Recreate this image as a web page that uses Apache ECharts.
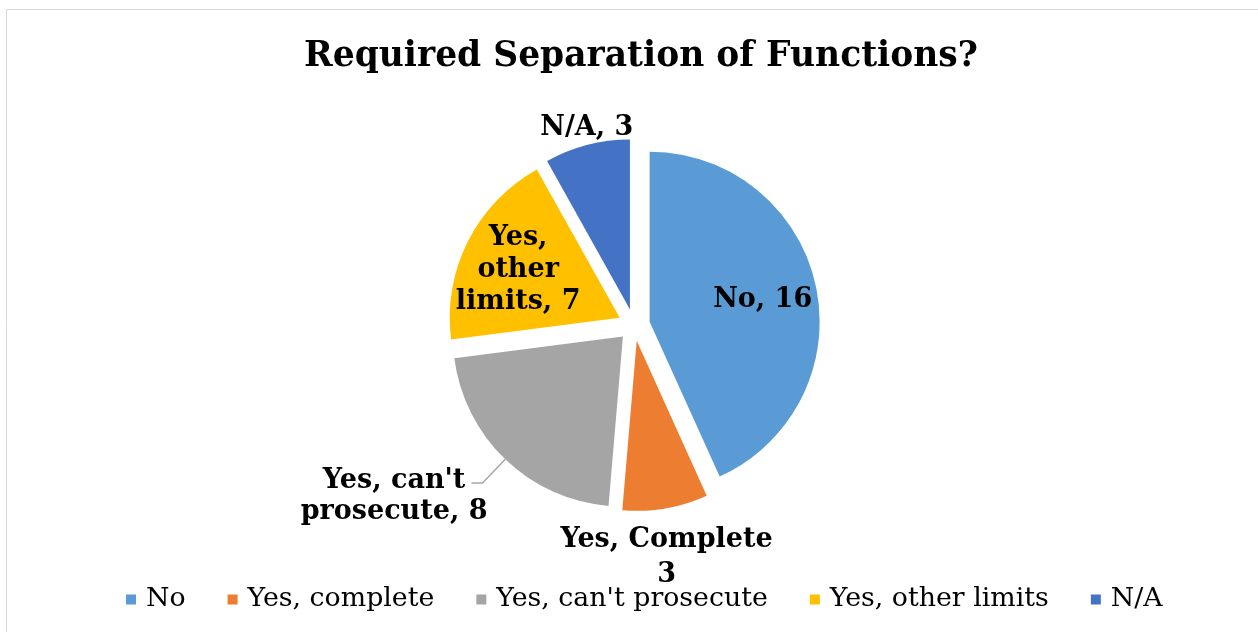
<!DOCTYPE html>
<html><head><meta charset="utf-8">
<script src="https://cdn.jsdelivr.net/npm/echarts@6/dist/echarts.min.js"></script>
<style>html,body{margin:0;padding:0;background:#fff}#c{width:1258px;height:632px}</style>
</head><body><div id="c"></div>
<script>
const categories = ["No", "Yes, complete", "Yes, can't prosecute", "Yes, other limits", "N/A"];
const labelNames = ["No", "Yes, Complete", "Yes, can't\nprosecute", "Yes,\nother\nlimits", "N/A"];
const values = [16, 3, 8, 7, 3];
const colors = ["#5B9BD5", "#ED7D31", "#A5A5A5", "#FFC000", "#4472C4"];
const FONT = "DejaVu Serif";

const labelFmt = [
  p => labelNames[0] + ', ' + p.value,
  p => labelNames[1] + '\n' + p.value,
  p => labelNames[2].split('\n').map((s, k, a) => '{c|' + s + (k === a.length - 1 ? ', ' + p.value : '') + '}').join('\n'),
  p => labelNames[3] + ', ' + p.value,
  p => labelNames[4] + ', ' + p.value
];
const shifts = [[27,-3],[15,130],[21,13],[-23,-8],[-21,-96]];

const data = categories.map((c, i) => ({
  name: c, value: values[i], selected: true,
  itemStyle: { color: colors[i] },
  label: i === 2 ? { position: 'outside' } : (i === 1 ? { position: 'inside', lineHeight: 35 } : { position: 'inside' }),
  labelLine: { show: i === 2 }
}));

const chart = echarts.init(document.getElementById('c'));
chart.setOption({
  animation: false,
  graphic: [{ type: 'rect', shape: { x: 6.5, y: 9.5, width: 1260, height: 640 }, style: { fill: 'none', stroke: '#d9d9d9', lineWidth: 1 } }],
  title: {
    text: 'Required Separation of Functions?', left: 636, textAlign: 'center', top: 35,
    textStyle: { fontFamily: FONT, fontWeight: 'bold', fontSize: 34.5, color: '#000' }
  },
  legend: {
    bottom: 14, left: 121, icon: 'rect', itemWidth: 10, itemHeight: 10, itemGap: 42,
    selectedMode: false,
    textStyle: { fontFamily: FONT, fontSize: 26.8, color: '#000', padding: [0, 0, 0, 5] },
    data: categories
  },
  series: [{
    type: 'pie', center: [634, 325], radius: [0, 170], startAngle: 90, clockwise: true,
    selectedMode: 'multiple', selectedOffset: 16,
    avoidLabelOverlap: false,
    select: { itemStyle: { borderWidth: 0 } },
    emphasis: { disabled: true },
    label: {
      fontFamily: FONT, fontWeight: 'bold', fontSize: 27, color: '#000', lineHeight: 32, align: 'center',
      formatter: p => labelFmt[p.dataIndex](p),
      rich: { c: { fontFamily: FONT, fontWeight: 'bold', fontSize: 27, color: '#000', lineHeight: 31, align: 'center' } }
    },
    labelLine: { length: 33, length2: 11, lineStyle: { color: '#A6A6A6', width: 1.5 } },
    labelLayout: p => ({ dx: shifts[p.dataIndex][0], dy: shifts[p.dataIndex][1] }),
    data: data
  }]
});
</script></body></html>
